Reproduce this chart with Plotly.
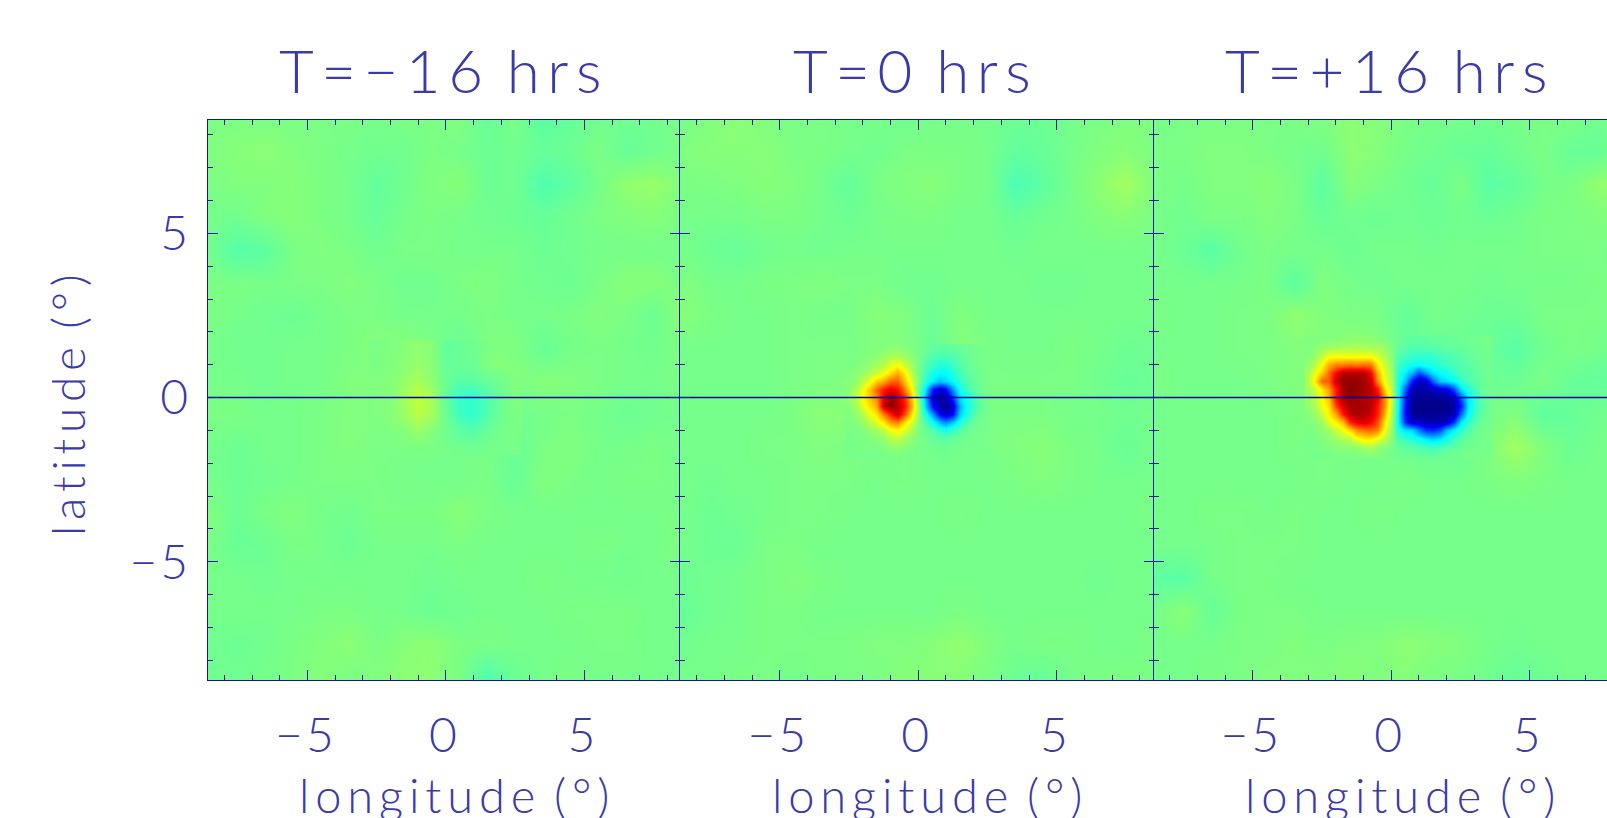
import plotly.graph_objects as go

# ---- data (signal strength, % of colour range) ----
TITLES = ["T=\u221216 hrs", "T=0 hrs", "T=+16 hrs"]
XLABEL = "longitude (\u00b0)"
YLABEL = "latitude (\u00b0)"
TICK_VALUES = [-5, 0, 5]
TICK_TEXT = ["\u2212\u200a5", "0", "5"]
ZERO_LON = [-9, 9]
ZERO_LAT = [0, 0]

BG_LON = [-8.5, -7.5, -6.5, -5.5, -4.5, -3.5, -2.5, -1.5, -0.5, 0.5, 1.5, 2.5, 3.5, 4.5, 5.5, 6.5, 7.5, 8.5]
BG_LAT = [8.5, 7.5, 6.5, 5.5, 4.5, 3.5, 2.5, 1.5, 0.5, -0.5, -1.5, -2.5, -3.5, -4.5, -5.5, -6.5, -7.5, -8.5]

bg_before = [
    [1, 1, 1, 1, 1, 1, 0, 1, 1, 2, -3, 1, -6, -3, -1, -1, -1, 1],
    [2, 3, 4, 2, 1, 0, -1, -1, 1, 0, -2, -1, -3, -2, 1, -3, -1, 1],
    [1, 2, 2, 3, 1, 0, -4, -1, 2, 3, -2, -1, -8, -5, 0, 5, 6, 2],
    [0, -1, 2, 3, 1, 0, -3, 0, 1, 0, -1, -2, -3, -1, 1, 2, 3, 1],
    [-1, -7, -5, 1, 2, 1, -1, 1, 1, 0, 0, 0, -2, -1, 0, 0, 0, 0],
    [1, 1, 0, 1, 1, 2, 1, -1, -1, 1, 2, 0, -1, -2, 1, 3, 3, 1],
    [1, 0, -1, -2, 0, 1, 1, 0, 0, 0, 1, 0, 0, 1, 2, 1, -2, 4],
    [0, -1, -1, 0, 0, 1, 3, 3, 1, -3, 2, 2, -3, 0, 1, 0, -1, 2],
    [0, 0, -1, 0, 0, 2, 2, 2, 1, -1, 0, 1, 3, 2, 1, 0, 0, 1],
    [1, 1, 0, 0, 1, 2, 2, 1, 0, -1, 0, -1, 0, 1, 0, -2, -1, 0],
    [0, -2, 0, 0, 1, 2, 1, 1, 0, 0, 0, -3, 1, 2, 0, 0, 1, 0],
    [0, -2, -1, 0, 1, 1, 1, 0, 0, 0, 1, -3, 2, 1, 0, 1, 1, 0],
    [2, -2, 1, 2, 0, -1, 1, 1, 1, 3, 1, 0, 0, 0, 0, 0, 0, 1],
    [1, -3, -2, 1, 0, -2, 0, 0, 0, 1, 0, 0, 0, 0, 1, 0, 0, 2],
    [0, 0, -1, 0, 0, 0, 0, 0, -1, 0, 0, 0, 1, 0, 0, -1, 0, 0],
    [0, 0, 0, 0, 1, 1, 0, 0, -2, -1, 0, 0, 0, 1, 1, 1, 0, 0],
    [-1, -2, -1, 1, 2, 4, 1, 3, 4, 1, 1, 0, 0, 0, 1, 1, 0, 0],
    [-1, -1, 0, 1, 3, 1, 2, 4, 4, 1, -8, -2, 0, 1, 0, 0, 0, 0],
]
bg_peak = [
    [0, 2, 4, 2, 1, 1, 0, 0, -1, 0, 0, 0, -2, -2, 0, 1, 2, 2],
    [2, 3, 3, 3, 1, 1, 0, -1, 1, 1, 1, 0, -4, -3, 0, 2, 3, 1],
    [1, 1, 2, 3, 2, 0, -4, 1, 2, 3, 1, 0, -9, -5, 0, 4, 8, 2],
    [0, 0, 0, 1, 1, 0, -2, 0, 1, 1, 0, 0, -3, -1, 0, 2, 3, 1],
    [0, -2, -3, -1, 0, -1, 0, 0, 0, 0, 0, 0, -1, 0, 0, 0, 0, 0],
    [2, 0, 0, 1, 1, 2, 1, 1, -1, -1, 0, 0, 0, -1, -1, 0, 0, 0],
    [3, 1, 0, 0, 1, 0, 0, 3, 2, -2, 2, 0, 0, 0, 0, 0, 0, 0],
    [0, 0, 0, 0, 1, 1, 1, 2, 2, -3, 3, 1, 0, 0, 1, 0, -2, -1],
    [0, 0, 0, 0, 1, 1, 2, 2, 1, -2, 1, 1, 1, 1, 1, -1, -3, -2],
    [0, 0, 0, 0, 1, 4, 3, 2, 1, -1, 1, 1, 1, 1, 0, 0, -1, 0],
    [0, 0, 0, 1, 1, 2, 1, 1, 1, 0, 0, 1, 2, 3, 1, 0, -3, 0],
    [0, -1, 0, 0, 1, 1, 1, 0, 1, 0, 0, 0, 1, 2, 1, 0, 0, 0],
    [0, -2, -1, 0, 1, 1, 0, 0, 0, 0, 1, 0, 0, 0, 0, 0, 0, 1],
    [0, -2, -2, 1, 1, 0, 0, 0, 0, 0, 0, 0, 0, 0, 0, 0, 0, 0],
    [-2, -1, 0, 1, 2, 1, 0, 0, 0, 0, 0, 0, 0, 0, 0, -1, 0, 0],
    [-3, -1, 0, 1, 1, 0, 0, 0, 0, 0, 1, 0, 0, 0, 0, 0, 0, 0],
    [-1, 0, 0, 1, 1, 1, 1, 2, 2, 3, 5, 2, 0, 1, 1, 0, 0, 1],
    [0, 0, 1, 1, 0, 1, 1, 1, 3, 3, 3, 1, -2, -3, 0, 1, 1, 1],
]
bg_after = [
    [0, 1, 1, 1, 1, 1, 2, 4, 3, 1, 0, 0, -1, 0, 1, 1, -1, 2],
    [1, 1, 2, 2, 1, 0, -1, 4, 3, 0, -1, -3, -3, -1, 1, -3, -3, 1],
    [1, 0, 2, 2, 3, 1, -5, 3, 1, -1, -3, 1, -6, -4, 0, 1, 5, 5],
    [0, -1, 1, 1, 2, 1, -3, -1, -2, -1, -2, -1, -2, -1, 1, 1, 2, 2],
    [0, -2, -6, -1, 1, 0, 0, -2, 0, 0, -1, 0, 0, 0, 1, 1, 1, 0],
    [0, 0, 0, 0, 1, -5, 2, 0, -1, 0, 0, 0, -1, 0, 0, 0, 1, 1],
    [1, 0, 0, 1, 1, 5, 2, 1, 1, -4, 0, -1, -2, -2, 1, 1, 1, 1],
    [0, 0, 0, 1, 1, 2, 3, 5, 3, -3, -3, -2, -3, -6, -1, 1, 0, -3],
    [1, 0, 0, 0, 1, 2, 3, 3, 2, -2, -4, -3, -2, -2, 1, -3, -4, -3],
    [0, 0, 0, 0, 0, 1, 3, 3, 1, -1, -2, -2, 0, 2, -5, -3, -1, 0],
    [0, 0, 0, 0, 0, 1, 1, 1, 0, -1, -2, -3, 2, 8, 2, -2, 0, 0],
    [0, 0, 0, 0, 0, 0, 1, 0, 0, 1, 0, 0, 1, 2, 1, 0, 0, 0],
    [0, 0, 1, 1, 0, 1, 0, 0, 1, 0, 0, 0, 0, 0, 0, 0, 0, 0],
    [0, 0, 0, 1, 1, 1, 0, 0, 0, 0, 0, 0, 0, 0, 0, 0, 0, 0],
    [-5, -6, 0, 1, 1, 0, 0, 0, 0, 0, 0, 0, 0, 0, 0, 0, 0, 0],
    [0, 4, -3, 1, 1, 1, 0, 0, 0, 0, 0, 0, 0, 0, 0, 0, 0, 0],
    [0, 0, 0, 1, 1, 2, 1, 2, 2, 4, 3, 2, 0, -1, 0, 0, 0, 0],
    [0, 0, 1, 1, 2, 2, 2, 3, 2, 3, 1, 1, -1, -3, -2, 0, 0, 0],
]

PATCH1_LON = [-2.5, -2, -1.5, -1, -0.5, 0, 0.5, 1, 1.5, 2, 2.5]
PATCH1_LAT = [1.5, 1, 0.5, 0, -0.5, -1, -1.5]
patch_before = [
    [1, 2, 3, 5, 3, -4, -3, -1, 1, 2, 1],
    [1, 2, 4, 6, 3, -3, -3, -2, 2, 3, 2],
    [2, 3, 6, 9, 4, -2, -6, -6, -3, -1, 2],
    [2, 3, 8, 14, 9, -4, -14, -14, -8, -2, 2],
    [2, 3, 7, 13, 8, -2, -12, -15, -7, -1, 1],
    [1, 2, 3, 6, 3, -1, -5, -7, -3, 0, 1],
    [1, 1, 1, 1, 1, 0, -1, -1, 0, 0, 0],
]

PATCH2_LON = [-2.5, -2.25, -2, -1.75, -1.5, -1.25, -1, -0.75, -0.5, -0.25, 0, 0.25, 0.5, 0.75, 1, 1.25, 1.5, 1.75, 2, 2.25, 2.5]
PATCH2_LAT = [1.5, 1.25, 1, 0.75, 0.5, 0.25, 0, -0.25, -0.5, -0.75, -1, -1.25, -1.5, -1.75]
patch_peak = [
    [1, 1, 1, 2, 2, 3, 4, 4, 3, 2, 0, -2, -4, -5, -5, -4, -3, -2, -1, 0, 0],
    [1, 1, 2, 3, 4, 6, 9, 10, 7, 4, 0, -5, -8, -10, -10, -8, -5, -3, -1, 0, 0],
    [1, 2, 3, 5, 8, 12, 20, 24, 16, 7, 0, -8, -14, -18, -17, -13, -8, -4, -2, 0, 0],
    [2, 3, 6, 10, 16, 22, 32, 42, 28, 12, 0, -12, -20, -26, -25, -18, -11, -6, -3, -1, 0],
    [3, 5, 12, 22, 34, 42, 55, 56, 36, 18, 0, -16, -28, -36, -32, -24, -15, -9, -4, -1, 0],
    [3, 10, 22, 36, 55, 70, 78, 72, 50, 25, -3, -30, -70, -85, -75, -45, -22, -12, -6, -2, 0],
    [4, 12, 25, 36, 50, 80, 95, 85, 65, 35, 0, -40, -85, -95, -90, -65, -30, -20, -10, -3, 0],
    [3, 8, 22, 30, 42, 85, 98, 88, 72, 40, 5, -35, -75, -90, -95, -85, -40, -22, -12, -4, 0],
    [2, 5, 10, 22, 30, 50, 70, 85, 60, 30, 5, -20, -45, -75, -85, -75, -35, -20, -8, -2, 0],
    [1, 3, 6, 12, 20, 30, 45, 50, 30, 18, 2, -8, -22, -38, -48, -35, -20, -8, -3, -1, 0],
    [1, 1, 3, 5, 8, 12, 22, 25, 18, 10, 1, -3, -8, -15, -18, -12, -7, -3, -1, 0, 0],
    [0, 1, 1, 2, 3, 6, 12, 15, 8, 4, 1, -1, -3, -5, -6, -4, -2, -1, 0, 0, 0],
    [0, 0, 1, 1, 1, 2, 4, 5, 3, 2, 0, 0, -1, -2, -2, -1, -1, 0, 0, 0, 0],
    [0, 0, 0, 0, 0, 1, 1, 1, 1, 0, 0, 0, 0, 0, -1, 0, 0, 0, 0, 0, 0],
]

PATCH3_LON = [-3, -2.75, -2.5, -2.25, -2, -1.75, -1.5, -1.25, -1, -0.75, -0.5, -0.25, 0, 0.25, 0.5, 0.75, 1, 1.25, 1.5, 1.75, 2, 2.25, 2.5, 2.75, 3, 3.25, 3.5]
PATCH3_LAT = [1.75, 1.5, 1.25, 1, 0.75, 0.5, 0.25, 0, -0.25, -0.5, -0.75, -1, -1.25, -1.5, -1.75]
patch_after = [
    [2, 2, 2, 3, 3, 4, 4, 5, 5, 4, 3, 2, 0, -2, -4, -5, -5, -5, -4, -4, -3, -3, -2, -1, -1, 0, 0],
    [2, 3, 6, 8, 9, 10, 10, 10, 10, 10, 9, 7, 2, -4, -6, -8, -8, -8, -7, -6, -5, -5, -4, -3, -2, -1, 0],
    [3, 6, 15, 25, 25, 25, 25, 25, 25, 25, 18, 10, 3, -8, -12, -15, -16, -16, -14, -12, -10, -8, -6, -4, -3, -2, -1],
    [5, 12, 25, 42, 50, 52, 55, 52, 55, 52, 28, 15, 5, -12, -18, -22, -25, -20, -20, -15, -12, -10, -8, -6, -4, -2, -1],
    [8, 22, 35, 55, 75, 90, 90, 92, 90, 75, 38, 18, 8, -15, -28, -40, -60, -45, -30, -25, -22, -15, -10, -7, -5, -3, -1],
    [10, 28, 55, 58, 85, 95, 96, 95, 92, 85, 45, 22, 10, -18, -35, -70, -90, -85, -55, -35, -30, -25, -15, -9, -6, -3, -1],
    [8, 15, 30, 45, 70, 92, 98, 96, 92, 88, 70, 30, 12, -20, -55, -90, -92, -90, -88, -82, -80, -60, -30, -18, -10, -4, -1],
    [6, 12, 25, 38, 72, 92, 95, 92, 90, 88, 78, 45, 15, -20, -65, -95, -98, -96, -96, -96, -95, -88, -60, -28, -15, -5, -2],
    [5, 10, 22, 30, 62, 82, 92, 93, 92, 88, 70, 45, 12, -22, -70, -96, -98, -98, -98, -98, -98, -92, -70, -30, -15, -5, -2],
    [3, 6, 15, 28, 42, 70, 88, 92, 90, 85, 68, 38, 10, -25, -72, -95, -96, -96, -96, -96, -95, -90, -55, -25, -12, -4, -1],
    [2, 3, 8, 20, 28, 38, 68, 78, 82, 75, 60, 28, 8, -25, -65, -85, -85, -90, -90, -90, -85, -65, -28, -15, -7, -2, -1],
    [1, 2, 4, 8, 15, 22, 32, 48, 52, 55, 48, 22, 5, -18, -30, -32, -50, -65, -68, -60, -38, -25, -15, -8, -3, -1, 0],
    [0, 1, 2, 4, 7, 10, 12, 22, 28, 28, 20, 12, 3, -8, -12, -18, -22, -28, -32, -28, -20, -12, -7, -3, -1, 0, 0],
    [0, 0, 1, 2, 3, 4, 5, 5, 8, 10, 5, 3, 0, -3, -5, -6, -8, -10, -12, -10, -7, -5, -3, -1, 0, 0, 0],
    [0, 0, 0, 0, 1, 1, 1, 2, 2, 3, 2, 1, 0, -1, -2, -2, -3, -3, -4, -3, -2, -1, 0, 0, 0, 0, 0],
]

# ---- style ----
W, H = 1607, 818
NAVY = "#1414a8"
INK = "#3a3aa8"
FONT = "Lato"
COLORS = [[0, "#00007f"], [0.125, "#0000ff"], [0.375, "#00ffff"], [0.5, "#76ff8a"],
          [0.625, "#ffff00"], [0.875, "#ff0000"], [1, "#7f0000"]]
EDGES = [(207.7, 680), (680, 1153.5), (1153.5, 1607)]
RANGES = [(-8.6, 8.45), (-8.6, 8.49), (-8.585, 7.79)]
TOP, BOTTOM = 120, 680
Y_RANGE = (-8.6, 8.45)
TITLE_X = [440, 912, 1386]
XLABEL_X = [454, 927, 1400]
GAP = "\u2009"


def spaced(text):
    """Hershey-style wide tracking: a thin space between all the letters."""
    return GAP.join(text).replace(GAP + " " + GAP, " " + GAP)


fig = go.Figure()
panels = [(bg_before, PATCH1_LON, PATCH1_LAT, patch_before),
          (bg_peak, PATCH2_LON, PATCH2_LAT, patch_peak),
          (bg_after, PATCH3_LON, PATCH3_LAT, patch_after)]


def heat(x, y, z, n):
    return go.Heatmap(x=x, y=y[::-1], z=z[::-1], zmin=-100, zmax=100, colorscale=COLORS,
                      zsmooth="best", showscale=False, hoverinfo="skip",
                      xaxis=f"x{n}", yaxis=f"y{n}")


for i, (bg, px, py, patch) in enumerate(panels):
    n = i + 1
    fig.add_trace(heat(BG_LON, BG_LAT, bg, n))
    fig.add_trace(heat(px, py, patch, n))
    fig.add_trace(go.Scatter(x=ZERO_LON, y=ZERO_LAT, mode="lines", showlegend=False, hoverinfo="skip",
                             line=dict(color="#0000a0", width=1.5), xaxis=f"x{n}", yaxis=f"y{n}"))

common = dict(showgrid=False, zeroline=False, showline=True, linecolor=NAVY, linewidth=1,
              tickmode="array", tickvals=TICK_VALUES, ticks="inside", ticklen=10, tickwidth=1,
              tickcolor=NAVY, minor=dict(dtick=1, tick0=0, ticks="inside", ticklen=5, tickwidth=1, tickcolor=NAVY),
              layer="above traces")
layout = dict(width=W, height=H, margin=dict(l=0, r=0, t=0, b=0), paper_bgcolor="white", plot_bgcolor="white",
              showlegend=False, font=dict(family=FONT, color=INK))
for i in range(3):
    n = i + 1
    sfx = "" if n == 1 else str(n)
    layout[f"xaxis{sfx}"] = dict(common, domain=[EDGES[i][0] / W, EDGES[i][1] / W], range=list(RANGES[i]),
                                 anchor=f"y{sfx}", mirror="ticks",
                                 ticktext=[t + "\u2009" for t in TICK_TEXT], ticklabelstandoff=13,
                                 tickfont=dict(family=FONT, size=48, color=INK, weight=300))
    layout[f"yaxis{sfx}"] = dict(common, domain=[1 - BOTTOM / H, 1 - TOP / H], range=list(Y_RANGE),
                                 anchor=f"x{sfx}", mirror="ticks" if n < 3 else False,
                                 ticktext=TICK_TEXT if n == 1 else ["", "", ""], ticklabelstandoff=9,
                                 tickfont=dict(family=FONT, size=48, color=INK, weight=300))
fig.update_layout(**layout)

for i in range(3):
    fig.add_annotation(text=spaced(TITLES[i]), xref="paper", yref="paper", x=TITLE_X[i] / W, y=1 - 70 / H,
                       showarrow=False, xanchor="center", yanchor="middle",
                       font=dict(family=FONT, size=60, color=INK, weight=300))
    fig.add_annotation(text=spaced(XLABEL), xref="paper", yref="paper", x=XLABEL_X[i] / W, y=1 - 795 / H,
                       showarrow=False, xanchor="center", yanchor="middle",
                       font=dict(family=FONT, size=47, color=INK, weight=300))
fig.add_annotation(text=spaced(YLABEL), xref="paper", yref="paper", x=67 / W, y=1 - 405 / H, textangle=-90,
                   showarrow=False, xanchor="center", yanchor="middle",
                   font=dict(family=FONT, size=46, color=INK, weight=300))

fig.write_html("out.html", config=dict(displayModeBar=False),
               post_script="document.body.style.margin='0';document.documentElement.style.overflow='hidden';")
